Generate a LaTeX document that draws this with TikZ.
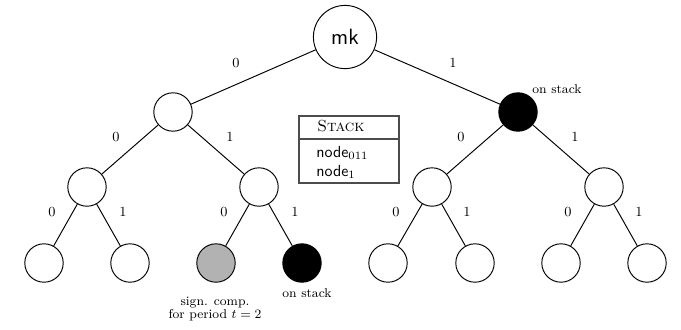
\documentclass[tikz,border=0pt]{standalone}
\begin{document}
\begin{tikzpicture}[x=0.625pt,y=-0.625pt,
  tn/.style={circle,draw,line width=0.6pt,minimum size=24pt,inner sep=0pt},
  rootn/.style={circle,draw,line width=0.6pt,minimum size=39.5pt,inner sep=0pt,font=\sffamily\fontsize{13.8}{15}\selectfont},
  onst/.style={tn,fill=black},
  sig/.style={tn,fill=black!30},
  edge/.style={line width=0.6pt},
  elab/.style={font=\fontsize{8.7}{10}\selectfont,inner sep=0pt},
  note/.style={font=\footnotesize,inner sep=0pt,align=center}]
\useasboundingbox (0,0) rectangle (681,329);
% nodes
\node[rootn] (r) at (345,37) {mk};
\node[tn] (a) at (173,112) {};
\node[onst] (b) at (518,112) {};
\node[tn] (a0) at (87,187) {};
\node[tn] (a1) at (259,187) {};
\node[tn] (b0) at (432,187) {};
\node[tn] (b1) at (604,187) {};
\node[tn] (a00) at (44,263) {};
\node[tn] (a01) at (130,263) {};
\node[sig] (a10) at (216,263) {};
\node[onst] (a11) at (302,263) {};
\node[tn] (b00) at (388,263) {};
\node[tn] (b01) at (475,263) {};
\node[tn] (b10) at (561,263) {};
\node[tn] (b11) at (647,263) {};
% edges
\foreach \p/\c in {r/a,r/b,a/a0,a/a1,b/b0,b/b1,a0/a00,a0/a01,a1/a10,a1/a11,b0/b00,b0/b01,b1/b10,b1/b11}
  \draw[edge] (\p) -- (\c);
% edge labels
\node[elab] (l1) at (236,63) {0};
\node[elab] (l2) at (453,63) {1};
\node[elab] (l3) at (116,137) {0};
\node[elab] (l4) at (230,137) {1};
\node[elab] (l5) at (461,137) {0};
\node[elab] (l6) at (575,137) {1};
\node[elab] (l7) at (52,212) {0};
\node[elab] (l8) at (123,212) {1};
\node[elab] (l9) at (224,212) {0};
\node[elab] (l10) at (295,212) {1};
\node[elab] (l11) at (396,212) {0};
\node[elab] (l12) at (467,212) {1};
\node[elab] (l13) at (568,212) {0};
\node[elab] (l14) at (639,212) {1};
% notes
\node[note] (n1) at (557,89) {on stack};
\node[note] (n2) at (307,293) {on stack};
\node[note] (n3) at (215,309) {sign. comp.\\[-1pt] for period $t=2$};
% stack box
\draw[draw=black!70,line width=0.8pt] (299,116) rectangle (399,183);
\draw[draw=black!70,line width=0.8pt] (299,139) -- (399,139);
\node[anchor=base west,inner sep=0pt] (s0) at (317,131) {\textsc{Stack}};
\node[anchor=base west,inner sep=0pt] (s1) at (316,157) {\textsf{node}$_{011}$};
\node[anchor=base west,inner sep=0pt] (s2) at (316,176) {\textsf{node}$_{1}$};
\end{tikzpicture}
\end{document}
